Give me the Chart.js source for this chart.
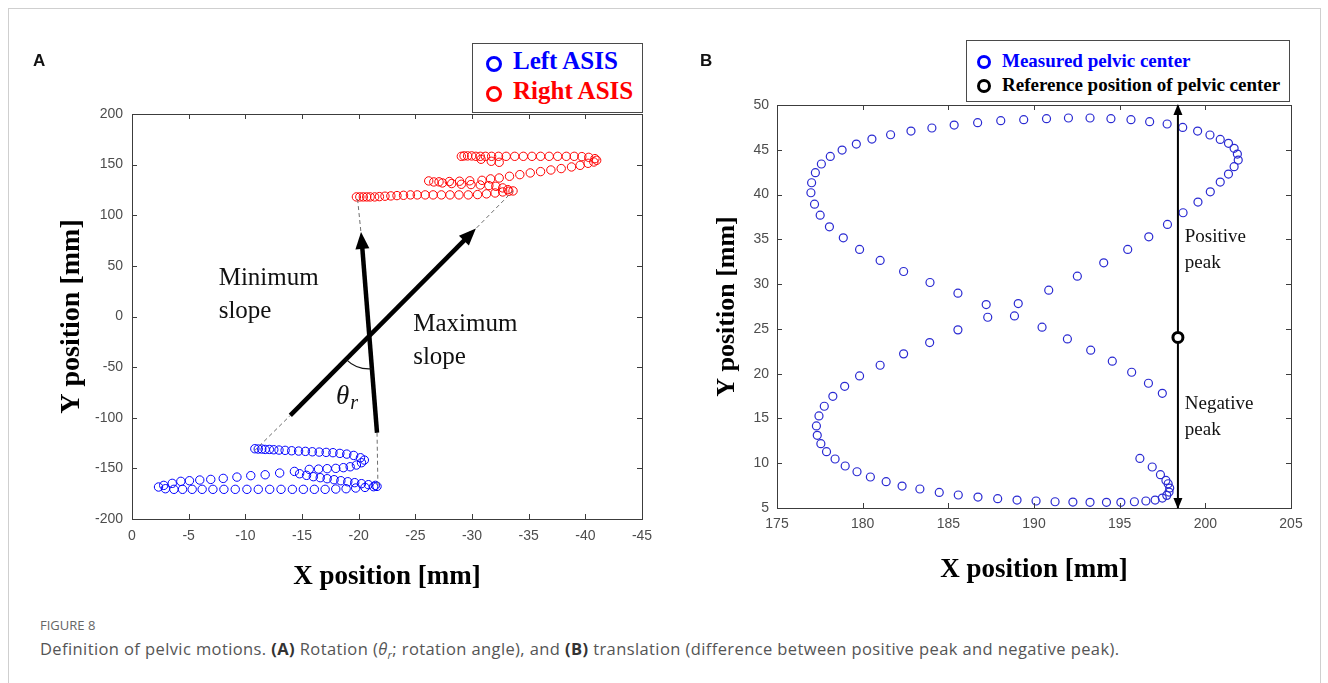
<!DOCTYPE html>
<html>
<head>
<meta charset="utf-8">
<title>Pelvic motions</title>
<script src="https://cdn.jsdelivr.net/npm/chart.js@4.4.0/dist/chart.umd.min.js"></script>
<style>
  body { margin: 0; width: 1328px; height: 683px; background: #fff; position: relative; overflow: hidden; font-family: 'Liberation Sans', Arial, sans-serif; }
  .frame { position: absolute; left: 8px; top: 8px; width: 1313px; height: 720px; border: 1px solid #cfcfcf; box-sizing: border-box; }
  .panel { position: absolute; top: 0; }
  .letter { position: absolute; font: bold 17px 'Liberation Sans', Arial, sans-serif; color: #111; }
  .legend { position: absolute; border: 1px solid #4a4a4a; background: #fff; box-sizing: border-box; font-family: 'Liberation Serif', 'Times New Roman', serif; font-weight: bold; z-index: 2; }
  .legend .row { position: absolute; white-space: nowrap; }
  .legend .ring { position: absolute; border-radius: 50%; box-sizing: border-box; background: #fff; }
  .cap1 { position: absolute; left: 40px; top: 616px; font: 13px 'Open Sans', sans-serif; color: #666; }
  .cap2 { position: absolute; left: 40px; top: 637px; font: 16.5px 'Open Sans', sans-serif; color: #555; white-space: nowrap; letter-spacing: 0.4px; }
  .cap2 b { color: #333; }
</style>
</head>
<body>
<div class="frame"></div>

<div class="panel" style="left:0;width:680px;height:610px"><canvas id="chartA" width="680" height="610"></canvas></div>
<div class="panel" style="left:680px;width:648px;height:610px"><canvas id="chartB" width="648" height="610"></canvas></div>

<div class="letter" style="left:33px;top:51px">A</div>
<div class="letter" style="left:700px;top:51px">B</div>

<div class="legend" style="left:472px;top:43px;width:171px;height:70px;font-size:25px">
  <div class="ring" style="left:13px;top:12px;width:16px;height:16px;border:3.5px solid #0000ff"></div>
  <div class="row" style="left:40px;top:3px;color:#0000ff">Left ASIS</div>
  <div class="ring" style="left:13px;top:42px;width:16px;height:16px;border:3.5px solid #ff0000"></div>
  <div class="row" style="left:40px;top:33px;color:#ff0000">Right ASIS</div>
</div>

<div class="legend" style="left:966px;top:40px;width:324px;height:62px;font-size:19px">
  <div class="ring" style="left:10px;top:14px;width:14px;height:14px;border:3.5px solid #0000ff"></div>
  <div class="row" style="left:35px;top:9px;color:#0000ff">Measured pelvic center</div>
  <div class="ring" style="left:10px;top:38px;width:14px;height:14px;border:3.5px solid #000"></div>
  <div class="row" style="left:35px;top:33px;color:#000">Reference position of pelvic center</div>
</div>

<div class="cap1">FIGURE 8</div>
<div class="cap2">Definition of pelvic motions. <b>(A)</b> Rotation (<i>θ<sub style="font-size:11px">r</sub></i>; rotation angle), and <b>(B)</b> translation (difference between positive peak and negative peak).</div>

<script>
// panel A: ASIS markers (x in mm, y in mm)
const leftAsisX = [
  -10.84, -11.14, -11.45, -11.75, -12.12, -12.51, -12.97, -13.51, -14.09, -14.70, -15.30, -15.91, -16.52, -17.13, -17.73, -18.34, -18.95, -19.56, -20.16, -20.50,
  -20.25, -19.80, -19.25, -18.65, -17.98, -17.22, -16.46, -15.64,
  -14.33, -13.03, -11.75, -10.48, -9.26, -8.05, -6.95, -5.98, -5.07, -4.31, -3.55, -2.80,
  -2.34, -2.95, -3.70, -4.46, -5.31, -6.19, -7.14, -8.11, -9.11, -10.14, -11.14, -12.15, -13.15, -14.15, -15.12, -16.09, -17.04, -17.98, -18.89, -19.74, -20.56, -21.32, -21.62,
  -21.47, -20.86, -20.25, -19.65, -19.04, -18.43, -17.83, -17.22, -16.61, -16.00, -15.40, -14.79
];
const leftAsisY = [
  -130.6, -130.9, -130.9, -131.3, -131.3, -131.6, -131.9, -132.2, -132.6, -132.9, -133.2, -133.6, -133.9, -134.2, -134.5, -135.2, -135.9, -137.2, -139.5, -141.8,
  -144.4, -146.7, -148.4, -149.3, -150.0, -150.3, -150.7, -151.0,
  -153.0, -154.6, -156.3, -157.2, -158.6, -159.9, -160.9, -161.5, -162.2, -162.8, -164.8, -166.8,
  -168.4, -170.1, -170.7, -170.7, -170.7, -170.7, -170.7, -170.7, -170.7, -170.7, -170.7, -170.7, -170.7, -170.7, -170.7, -170.7, -170.7, -170.4, -170.1, -169.4, -168.8, -168.1, -167.8,
  -166.8, -166.1, -165.1, -164.1, -163.2, -162.2, -161.2, -160.2, -159.2, -158.2, -156.9, -155.3
];
const rightAsisX = [
  -19.80, -20.10, -20.41, -20.71, -21.01, -21.41, -21.83, -22.32, -22.84, -23.38, -23.96, -24.57, -25.17, -25.87, -26.57, -27.30, -28.06, -28.85, -29.67, -30.49, -31.28, -32.04, -32.71, -33.25, -33.62,
  -33.16, -32.71, -32.10, -31.49, -30.73, -29.91, -29.06, -28.21, -27.39, -26.63, -26.18,
  -27.09, -28.00, -28.90, -29.80, -30.88, -31.64, -32.40, -33.31, -34.22, -35.14, -36.05, -36.96, -37.87, -38.78, -39.54, -40.24, -40.75, -41.00,
  -40.85, -40.30, -39.69, -39.02, -38.32, -37.56, -36.81, -36.05, -35.29, -34.53, -33.77, -33.01, -32.34, -31.73, -31.19, -30.73, -30.34, -29.97, -29.61, -29.30, -29.06,
  -30.80, -31.70, -32.40
];
const rightAsisY = [
  118.1, 118.1, 118.1, 118.1, 118.1, 118.1, 118.4, 118.8, 119.1, 119.4, 119.7, 120.1, 120.1, 120.1, 120.1, 120.1, 120.1, 120.1, 120.1, 120.4, 121.1, 122.0, 123.0, 123.7, 124.0,
  125.3, 127.0, 128.6, 129.3, 129.9, 130.3, 130.6, 131.3, 131.9, 132.9, 133.9,
  133.0, 133.3, 133.6, 134.0, 134.5, 135.9, 136.8, 138.5, 140.1, 141.8, 143.1, 144.7, 146.1, 147.7, 149.3, 151.3, 152.6, 154.3,
  155.9, 157.2, 157.9, 158.2, 158.2, 158.2, 158.2, 158.2, 158.2, 158.2, 158.2, 158.2, 158.2, 158.2, 158.2, 158.2, 158.2, 158.6, 158.6, 158.6, 158.2,
  155.3, 153.3, 152.3
];
// slope arrows and guide lines, [start, end]
const minSlopeX = [-21.62, -20.25];
const minSlopeY = [-114.8, 77.6];
const maxSlopeX = [-13.97, -29.97];
const maxSlopeY = [-97.7, 82.6];
const guideLines = [
  [[-10.78, -132.9], [-13.97, -97.7]],
  [[-29.97, 82.6], [-33.62, 124.0]],
  [[-21.62, -114.8], [-21.70, -167.6]],
  [[-20.25, 77.6], [-19.89, 117.6]]
];

// panel B: measured pelvic center
const pelvicX = [
  198.68, 199.55, 200.27, 200.87, 201.35, 201.68, 201.87, 201.92, 201.68, 201.35, 200.87, 200.29, 199.57, 198.70, 197.79, 196.70, 195.47, 194.07, 192.53, 190.86,
  189.08, 187.30, 185.56, 183.91, 182.39, 181.02, 179.82, 178.95, 178.26, 177.76, 177.45, 177.30, 177.35, 177.56, 177.89, 178.39, 178.98, 179.67, 180.45, 181.37,
  182.30, 183.34, 184.47, 185.58, 186.73, 187.88, 189.01, 190.12, 191.23, 192.27, 193.27, 194.23, 195.07, 195.86, 196.53, 197.07, 197.49, 197.75, 197.88, 197.92,
  197.83, 197.70, 197.38, 196.90, 196.18,
  197.77, 196.75, 195.66, 194.49, 193.27, 192.01, 190.73, 189.40, 188.06, 186.71, 185.34, 184.04, 182.82, 181.63, 180.54, 179.63, 178.80, 178.11, 177.59, 177.24,
  177.02, 176.98, 177.19, 177.52, 178.06, 178.87, 179.82, 181.02, 182.39, 183.93, 185.56, 187.21, 188.86, 190.47, 191.95, 193.31, 194.57, 195.70, 196.68, 197.49
];
const pelvicY = [
  47.50, 47.09, 46.65, 46.16, 45.72, 45.16, 44.52, 43.85, 43.11, 42.29, 41.39, 40.31, 39.16, 37.97, 36.66, 35.28, 33.87, 32.38, 30.89, 29.32,
  27.83, 26.30, 24.89, 23.47, 22.21, 20.94, 19.75, 18.59, 17.47, 16.36, 15.28, 14.16, 13.11, 12.18, 11.29, 10.47, 9.69, 9.05, 8.46, 7.94,
  7.45, 7.12, 6.74, 6.45, 6.22, 6.04, 5.89, 5.78, 5.70, 5.66, 5.63, 5.63, 5.63, 5.70, 5.78, 5.89, 6.11, 6.41, 6.78, 7.23,
  7.71, 8.08, 8.72, 9.58, 10.54,
  47.88, 48.14, 48.36, 48.47, 48.55, 48.55, 48.47, 48.36, 48.25, 48.03, 47.76, 47.43, 47.09, 46.68, 46.20, 45.64, 44.97, 44.26, 43.41, 42.44,
  41.32, 40.20, 38.93, 37.70, 36.40, 35.17, 33.87, 32.64, 31.41, 30.18, 28.99, 27.72, 26.45, 25.19, 23.88, 22.62, 21.39, 20.16, 18.93, 17.81
];
const refCenter = [198.4, 24.05];
const peakArrowX = [198.4, 198.4];
const peakArrowY = [5, 50];

const toPoints = (xs, ys) => xs.map((x, i) => ({ x, y: ys[i] }));

Chart.defaults.font.family = "'Liberation Sans', Arial, sans-serif";
Chart.defaults.font.size = 14;
Chart.defaults.color = '#4d4d4d';

// MATLAB style box with inward ticks on all four sides
const matlabBox = {
  id: 'matlabBox',
  afterDatasetsDraw(chart) {
    const { ctx, chartArea: a, scales: { x, y } } = chart;
    ctx.save();
    ctx.strokeStyle = '#3c3c3c';
    ctx.lineWidth = 1;
    ctx.strokeRect(Math.round(a.left) + 0.5, Math.round(a.top) + 0.5, Math.round(a.right - a.left), Math.round(a.bottom - a.top));
    const len = 5;
    ctx.beginPath();
    x.ticks.forEach(t => {
      const px = Math.round(x.getPixelForValue(t.value)) + 0.5;
      ctx.moveTo(px, a.bottom); ctx.lineTo(px, a.bottom - len);
      ctx.moveTo(px, a.top); ctx.lineTo(px, a.top + len);
    });
    y.ticks.forEach(t => {
      const py = Math.round(y.getPixelForValue(t.value)) + 0.5;
      ctx.moveTo(a.left, py); ctx.lineTo(a.left + len, py);
      ctx.moveTo(a.right, py); ctx.lineTo(a.right - len, py);
    });
    ctx.stroke();
    ctx.restore();
  }
};

const arrowHeads = {
  id: 'arrowHeads',
  afterDatasetsDraw(chart) {
    const ctx = chart.ctx;
    chart.data.datasets.forEach((ds, i) => {
      if (!ds.arrow) return;
      const pts = chart.getDatasetMeta(i).data;
      const { len, half, ext, both } = ds.arrow;
      const head = (tip, from) => {
        const ang = Math.atan2(tip.y - from.y, tip.x - from.x);
        const c = Math.cos(ang), s = Math.sin(ang);
        const ax = tip.x + c * ext, ay = tip.y + s * ext;
        ctx.beginPath();
        ctx.moveTo(ax, ay);
        ctx.lineTo(ax - len * c + half * s, ay - len * s - half * c);
        ctx.lineTo(ax - len * c - half * s, ay - len * s + half * c);
        ctx.closePath();
        ctx.fill();
      };
      ctx.save();
      ctx.fillStyle = ds.borderColor;
      head(pts[pts.length - 1], pts[0]);
      if (both) head(pts[0], pts[pts.length - 1]);
      ctx.restore();
    });
  }
};

const notes = {
  id: 'notes',
  afterDatasetsDraw(chart, args, opts) {
    const { ctx, scales: { x, y } } = chart;
    ctx.save();
    (opts.texts || []).forEach(t => {
      ctx.font = t.font;
      ctx.fillStyle = '#111';
      ctx.textAlign = 'left';
      ctx.textBaseline = 'alphabetic';
      ctx.fillText(t.text, x.getPixelForValue(t.x), y.getPixelForValue(t.y));
    });
    if (opts.angle) {
      // arc between the two slope arrows, centred on their crossing
      const [i1, i2] = opts.angle.between;
      const p = chart.getDatasetMeta(i1).data, q = chart.getDatasetMeta(i2).data;
      const d1x = p[1].x - p[0].x, d1y = p[1].y - p[0].y;
      const d2x = q[1].x - q[0].x, d2y = q[1].y - q[0].y;
      const den = d1x * d2y - d1y * d2x;
      const t = ((q[0].x - p[0].x) * d2y - (q[0].y - p[0].y) * d2x) / den;
      const cx = p[0].x + t * d1x, cy = p[0].y + t * d1y;
      const a1 = Math.atan2(p[0].y - cy, p[0].x - cx);
      const a2 = Math.atan2(q[0].y - cy, q[0].x - cx);
      ctx.beginPath();
      ctx.strokeStyle = '#111';
      ctx.lineWidth = 1.2;
      ctx.arc(cx, cy, opts.angle.radius, Math.min(a1, a2), Math.max(a1, a2));
      ctx.stroke();
    }
    ctx.restore();
  }
};

function fixAxis(size, vertical) {
  return s => {
    if (vertical) s.width = size; else s.height = size;
    s.paddingLeft = 0; s.paddingRight = 0; s.paddingTop = 0; s.paddingBottom = 0;
  };
}

const serifTitle = size => ({ family: "'Liberation Serif', 'Times New Roman', serif", size, weight: 'bold' });

const lineSet = (xs, ys, extra) => Object.assign({
  data: toPoints(xs, ys),
  showLine: true,
  pointRadius: 0,
  borderColor: '#000',
  borderWidth: 4.5,
  fill: false
}, extra);

new Chart(document.getElementById('chartA'), {
  type: 'scatter',
  data: {
    datasets: [
      lineSet(minSlopeX, minSlopeY, { arrow: { len: 17, half: 7, ext: 6 }, order: 1 }),
      lineSet(maxSlopeX, maxSlopeY, { arrow: { len: 17, half: 7, ext: 6 }, order: 1 }),
      ...guideLines.map(g => lineSet([g[0][0], g[1][0]], [g[0][1], g[1][1]], { borderColor: '#6e6e6e', borderWidth: 1, borderDash: [4, 3], order: 2 })),
      {
        data: toPoints(leftAsisX, leftAsisY),
        pointStyle: 'circle', pointRadius: 4.2, borderWidth: 1,
        borderColor: '#0000ff', backgroundColor: 'rgba(0,0,0,0)', order: 3
      },
      {
        data: toPoints(rightAsisX, rightAsisY),
        pointStyle: 'circle', pointRadius: 4.2, borderWidth: 1,
        borderColor: '#ff0000', backgroundColor: 'rgba(0,0,0,0)', order: 3
      }
    ]
  },
  options: {
    responsive: false,
    animation: false,
    events: [],
    layout: { padding: { top: 114, right: 38, bottom: 0, left: 0 } },
    scales: {
      x: {
        type: 'linear', min: -45, max: 0, reverse: true,
        grid: { display: false, drawTicks: false }, border: { display: false },
        ticks: { stepSize: 5, padding: 9, maxRotation: 0, autoSkip: false },
        title: { display: true, text: 'X position [mm]', color: '#000', font: serifTitle(27), padding: { top: 0, bottom: 16.8 } },
        afterFit: fixAxis(91, false)
      },
      y: {
        type: 'linear', min: -200, max: 200,
        grid: { display: false, drawTicks: false }, border: { display: false },
        ticks: { stepSize: 50, padding: 9, autoSkip: false },
        title: { display: true, text: 'Y position [mm]', color: '#000', font: serifTitle(28), padding: { top: 55.2, bottom: 0 } },
        afterFit: fixAxis(132, true)
      }
    },
    plugins: {
      legend: { display: false },
      tooltip: { enabled: false },
      notes: {
        texts: [
          { text: 'Minimum', x: -7.65, y: 31.6, font: "25px 'Liberation Serif', serif" },
          { text: 'slope', x: -7.65, y: -1.3, font: "25px 'Liberation Serif', serif" },
          { text: 'Maximum', x: -24.81, y: -14.5, font: "25px 'Liberation Serif', serif" },
          { text: 'slope', x: -24.81, y: -47.4, font: "25px 'Liberation Serif', serif" },
          { text: 'θ', x: -18.0, y: -86.5, font: "italic 27px 'Liberation Serif', serif" },
          { text: 'r', x: -19.25, y: -91.0, font: "italic 20px 'Liberation Serif', serif" }
        ],
        angle: { between: [0, 1], radius: 33 }
      }
    }
  },
  plugins: [matlabBox, arrowHeads, notes]
});

new Chart(document.getElementById('chartB'), {
  type: 'scatter',
  data: {
    datasets: [
      {
        data: [{ x: refCenter[0], y: refCenter[1] }],
        pointStyle: 'circle', pointRadius: 5, borderWidth: 3,
        borderColor: '#000', backgroundColor: '#fff', order: 0
      },
      lineSet(peakArrowX, peakArrowY, { borderWidth: 2, arrow: { len: 11, half: 4.5, ext: 1, both: true }, order: 1 }),
      {
        data: toPoints(pelvicX, pelvicY),
        pointStyle: 'circle', pointRadius: 4, borderWidth: 1.2,
        borderColor: '#2a2ad2', backgroundColor: 'rgba(0,0,0,0)', order: 2
      }
    ]
  },
  options: {
    responsive: false,
    animation: false,
    events: [],
    layout: { padding: { top: 105, right: 37, bottom: 0, left: 0 } },
    scales: {
      x: {
        type: 'linear', min: 175, max: 205,
        grid: { display: false, drawTicks: false }, border: { display: false },
        ticks: { stepSize: 5, padding: 8, maxRotation: 0, autoSkip: false },
        title: { display: true, text: 'X position [mm]', color: '#000', font: serifTitle(27), padding: { top: 0, bottom: 23.8 } },
        afterFit: fixAxis(102, false)
      },
      y: {
        type: 'linear', min: 5, max: 50,
        grid: { display: false, drawTicks: false }, border: { display: false },
        ticks: { stepSize: 5, padding: 8, autoSkip: false },
        title: { display: true, text: 'Y position [mm]', color: '#000', font: serifTitle(26), padding: { top: 31.4, bottom: 0 } },
        afterFit: fixAxis(97, true)
      }
    },
    plugins: {
      legend: { display: false },
      tooltip: { enabled: false },
      notes: {
        texts: [
          { text: 'Positive', x: 198.8, y: 34.7, font: "19px 'Liberation Serif', serif" },
          { text: 'peak', x: 198.8, y: 31.8, font: "19px 'Liberation Serif', serif" },
          { text: 'Negative', x: 198.8, y: 16.0, font: "19px 'Liberation Serif', serif" },
          { text: 'peak', x: 198.8, y: 13.1, font: "19px 'Liberation Serif', serif" }
        ]
      }
    }
  },
  plugins: [matlabBox, arrowHeads, notes]
});
</script>
</body>
</html>
